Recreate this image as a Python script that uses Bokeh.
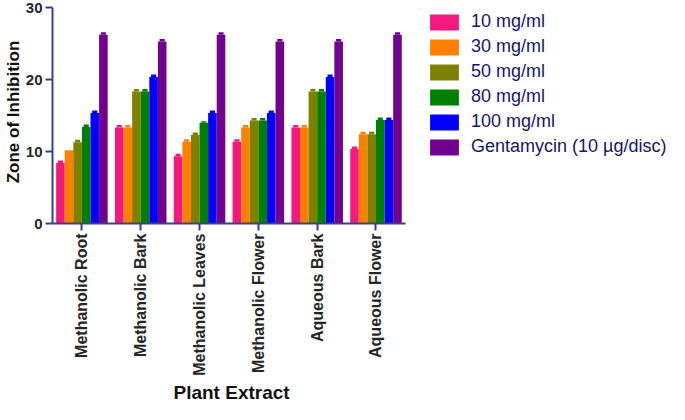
import math
from bokeh.plotting import figure
from bokeh.models import Range1d, ColumnDataSource, Legend, LegendItem, FixedTicker, Title
from bokeh.transform import dodge
from bokeh.embed import file_html
from bokeh.resources import INLINE

categories = ["Methanolic Root", "Methanolic Bark", "Methanolic Leaves",
              "Methanolic Flower", "Aqueous Bark", "Aqueous Flower"]
series_names = ["10 mg/ml", "30 mg/ml", "50 mg/ml", "80 mg/ml", "100 mg/ml",
                "Gentamycin (10 \u00b5g/disc)"]
v10 = [8.4, 13.35, 9.35, 11.35, 13.35, 10.35]
v30 = [10.2, 13.35, 11.35, 13.35, 13.35, 12.4]
v50 = [11.3, 18.35, 12.3, 14.33, 18.35, 12.4]
v80 = [13.4, 18.35, 14.0, 14.33, 18.35, 14.4]
v100 = [15.35, 20.35, 15.35, 15.35, 20.35, 14.4]
vgen = [26.25, 25.3, 26.25, 25.3, 25.3, 26.25]
e10 = [0.35, 0.35, 0.35, 0.35, 0.35, 0.35]
e30 = [0.0, 0.35, 0.35, 0.35, 0.35, 0.35]
e50 = [0.35, 0.35, 0.35, 0.35, 0.35, 0.35]
e80 = [0.35, 0.35, 0.2, 0.35, 0.35, 0.35]
e100 = [0.35, 0.35, 0.35, 0.35, 0.35, 0.35]
egen = [0.35, 0.35, 0.35, 0.35, 0.35, 0.35]

values = [v10, v30, v50, v80, v100, vgen]
errors = [e10, e30, e50, e80, e100, egen]
colors = ["#f5197f", "#ff7f00", "#808000", "#008000", "#0000ff", "#71028f"]

AXIS_COLOR = "#37428a"
TEXT_COLOR = "#262626"

xi = list(range(len(categories)))
n = len(categories)

p = figure(width=669, height=404, output_backend="svg", toolbar_location=None,
           x_range=Range1d(-0.5, 9.99),
           y_range=Range1d(0, 31.0),
           min_border_left=46, min_border_right=0, min_border_top=0,
           min_border_bottom=10)
p.outline_line_color = None
p.grid.visible = False
p.background_fill_color = "white"
p.border_fill_color = "white"

bw = 0.146
items = []
for i, (vals, errs, col, name) in enumerate(zip(values, errors, colors, series_names)):
    tops = [v + e for v, e in zip(vals, errs)]
    src = ColumnDataSource(dict(x=xi, val=vals, top=tops))
    off = (i - 2.5) * bw
    r = p.vbar(x=dodge("x", off), top="val", bottom=0,
               width=bw, source=src, fill_color=col, line_color=None)
    p.vbar(x=dodge("x", off), top="top", bottom="val",
           width=bw * 0.6, source=src, fill_color=col, line_color=None)
    items.append(LegendItem(label=name, renderers=[r]))

legend = Legend(items=items, location=(374, 66), padding=0, margin=0,
                border_line_color=None, background_fill_alpha=0,
                glyph_width=36, glyph_height=20, spacing=4, label_standoff=9,
                label_text_font="Liberation Sans", label_text_font_size="18px",
                label_text_color="#15156e")
p.add_layout(legend)

# y axis
p.yaxis.bounds = (0, 30)
p.yaxis.ticker = [0, 10, 20, 30]
p.yaxis.minor_tick_line_color = None
p.yaxis.axis_line_color = AXIS_COLOR
p.yaxis.axis_line_width = 2
p.yaxis.major_tick_line_color = AXIS_COLOR
p.yaxis.major_tick_line_width = 2
p.yaxis.major_tick_out = 7
p.yaxis.major_tick_in = 0
p.yaxis.major_label_standoff = 3
p.yaxis.major_label_text_font = "Liberation Sans"
p.yaxis.major_label_text_font_style = "bold"
p.yaxis.major_label_text_font_size = "15px"
p.yaxis.major_label_text_color = TEXT_COLOR
p.yaxis.axis_label = "Zone of Inhibition"
p.yaxis.axis_label_text_font = "Liberation Sans"
p.yaxis.axis_label_text_font_style = "bold"
p.yaxis.axis_label_text_font_size = "17px"
p.yaxis.axis_label_text_color = "#111111"
p.yaxis.axis_label_standoff = 0

# x axis
p.xaxis.bounds = (-0.5, n - 0.5)
p.xaxis.ticker = FixedTicker(ticks=xi)
p.xaxis.major_label_overrides = {i: c for i, c in enumerate(categories)}
p.xaxis.axis_line_color = AXIS_COLOR
p.xaxis.axis_line_width = 2
p.xaxis.major_tick_line_color = AXIS_COLOR
p.xaxis.major_tick_line_width = 2
p.xaxis.major_tick_out = 7
p.xaxis.major_tick_in = 0
p.xaxis.minor_tick_line_color = None
p.xaxis.major_label_orientation = math.pi / 2
p.xaxis.major_label_standoff = 3
p.xaxis.major_label_text_font = "Liberation Sans"
p.xaxis.major_label_text_font_style = "bold"
p.xaxis.major_label_text_font_size = "16px"
p.xaxis.major_label_text_color = TEXT_COLOR

xlabel = Title(text="Plant Extract", align="left", offset=121, standoff=3,
               vertical_align="bottom",
               text_font="Liberation Sans", text_font_style="bold",
               text_font_size="19px", text_color="#111111")
p.add_layout(xlabel, "below")

open("out.html", "w").write(file_html(p, INLINE))
